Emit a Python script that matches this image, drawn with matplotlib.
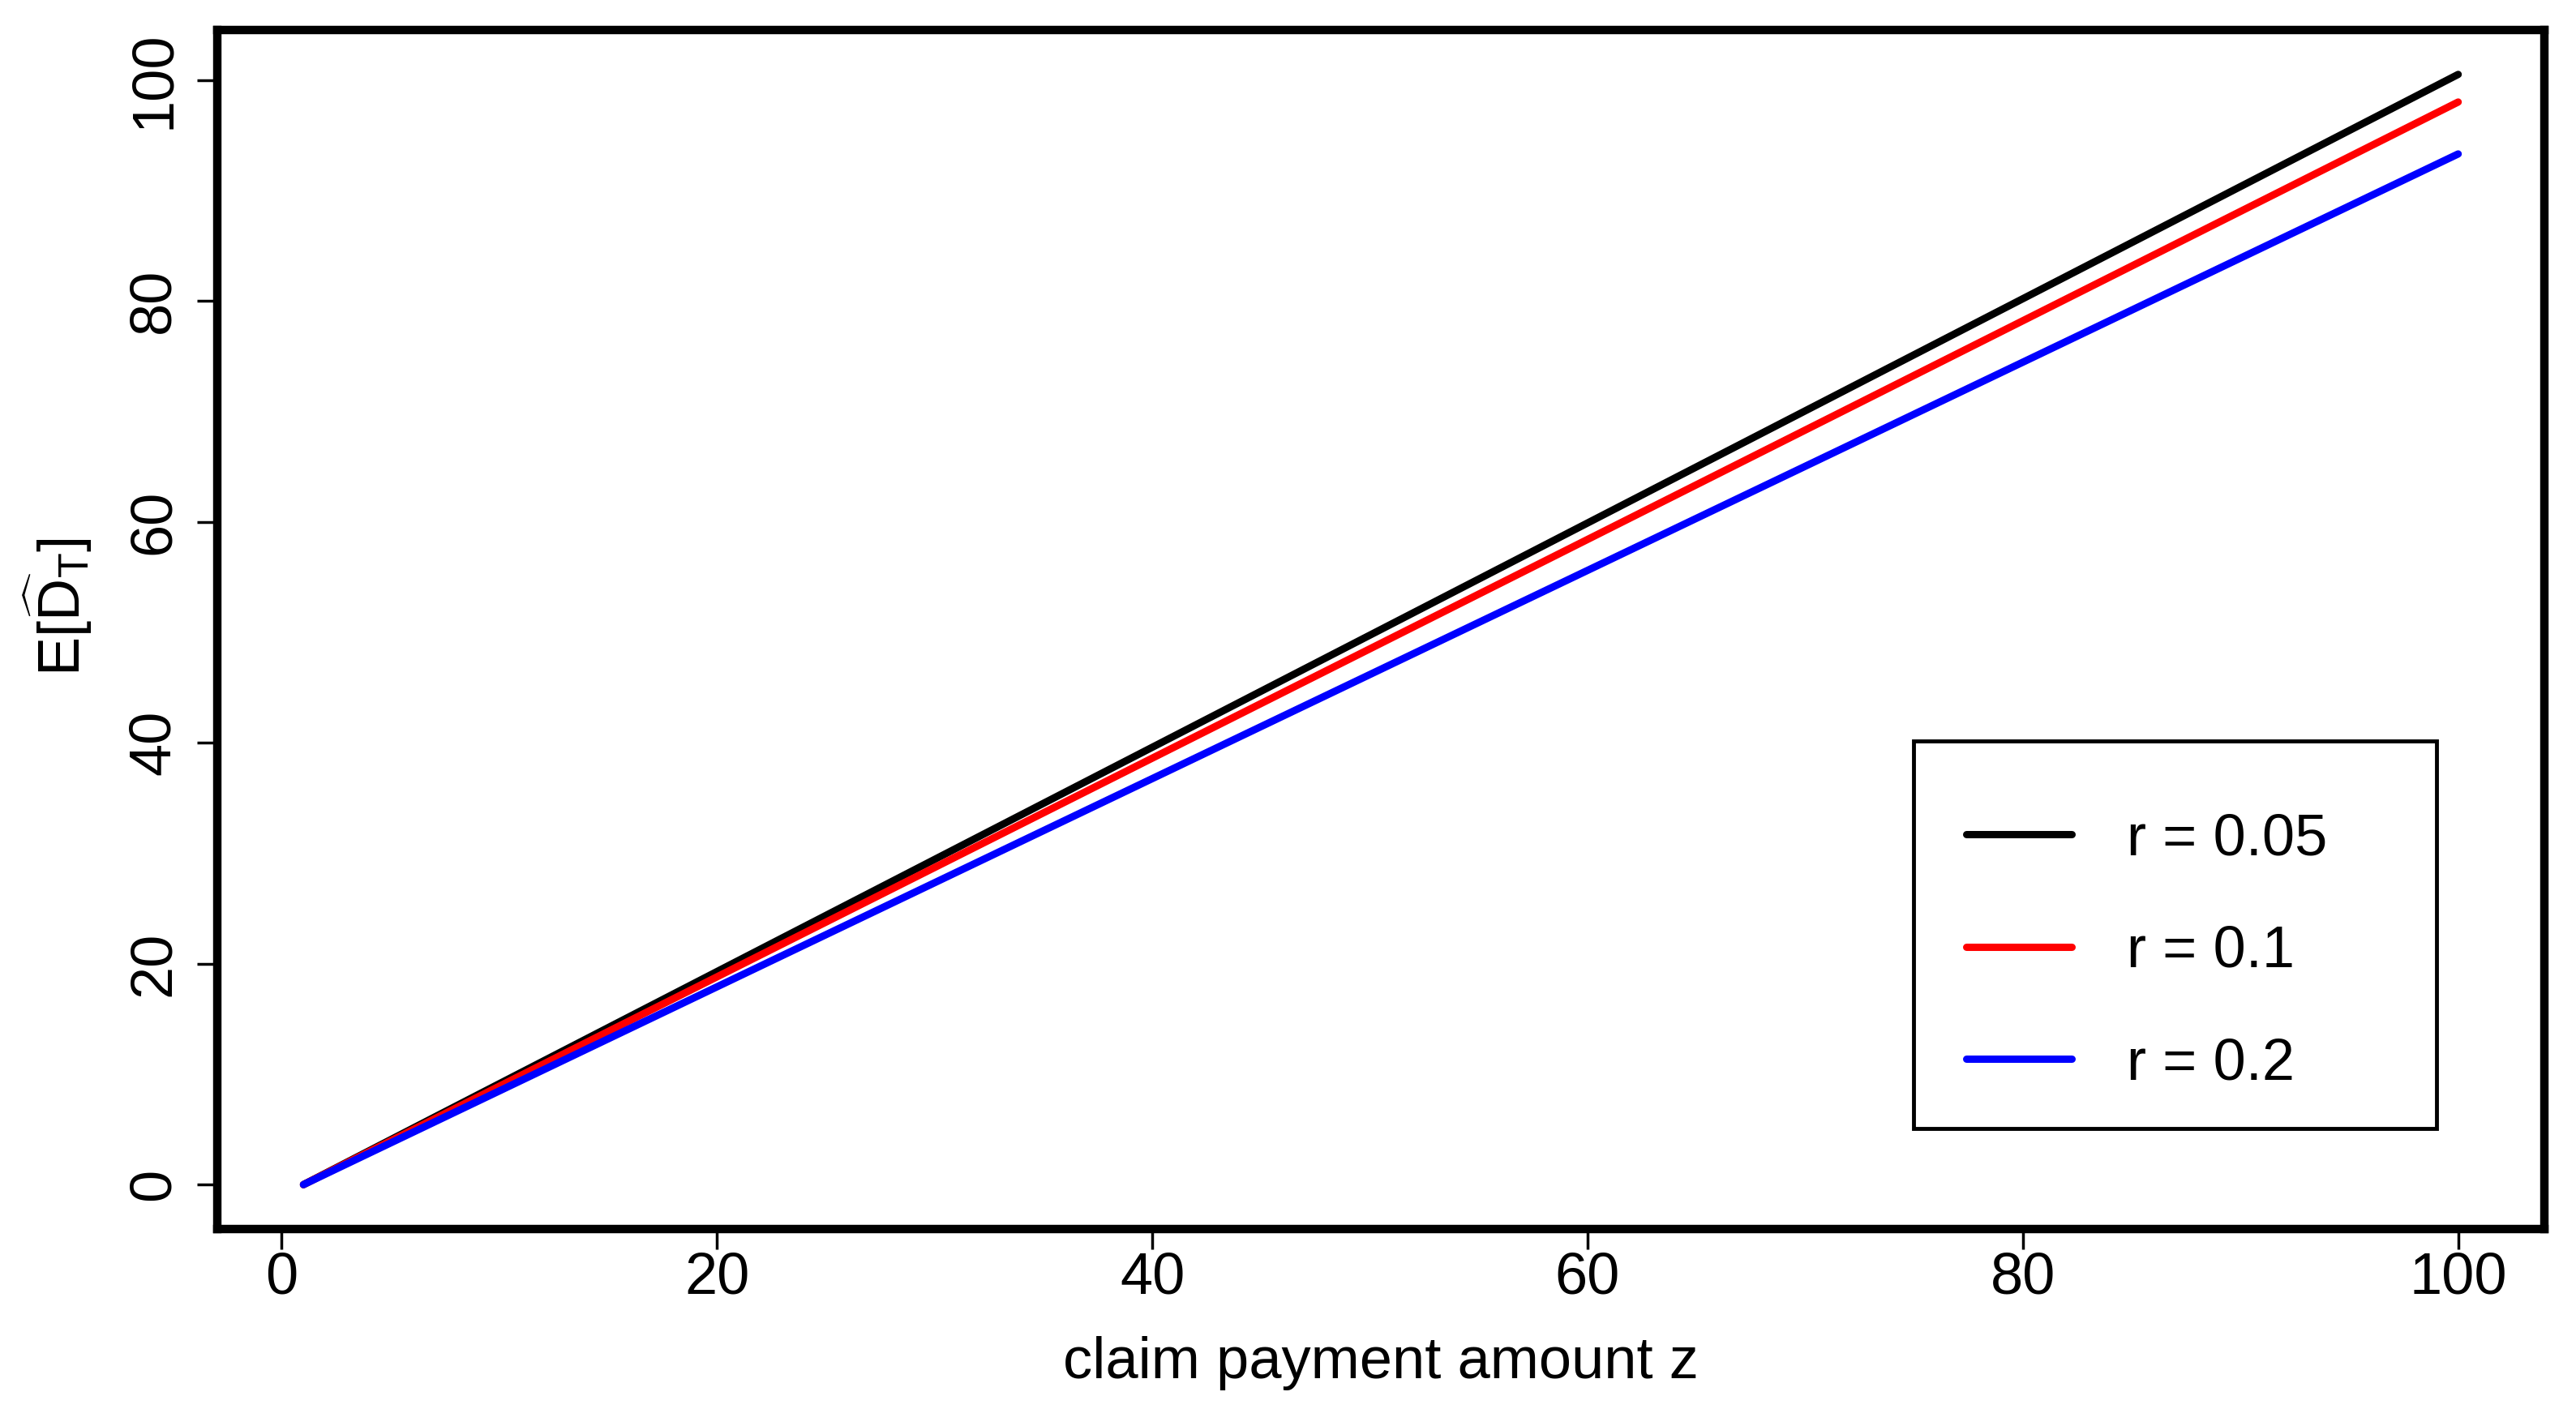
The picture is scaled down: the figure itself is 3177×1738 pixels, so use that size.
import matplotlib
matplotlib.use("Agg")
import matplotlib.pyplot as plt
from matplotlib.patches import Rectangle

plt.rcParams['font.family'] = ['Liberation Sans', 'DejaVu Sans']
plt.rcParams['mathtext.fontset'] = 'custom'
plt.rcParams['mathtext.rm'] = 'Liberation Sans'
plt.rcParams['mathtext.it'] = 'Liberation Sans'

# claim payment amount z (straight lines from z=1 to z=100)
z = [1, 100]
ed_r005 = [0.0, 100.5]
ed_r01 = [0.0, 98.0]
ed_r02 = [0.0, 93.3]

labels = ["r = 0.05", "r = 0.1", "r = 0.2"]
colors = ["black", "red", "blue"]
xticks = [0, 20, 40, 60, 80, 100]
yticks = [0, 20, 40, 60, 80, 100]

W, H = 3177, 1738
fig = plt.figure(figsize=(W / 100, H / 100), dpi=100)
ax = fig.add_axes([268 / W, 1 - 1516 / H, (3138 - 268) / W, (1516 - 37) / H])

for yv, lab, col in zip([ed_r005, ed_r01, ed_r02], labels, colors):
    ax.plot(z, yv, color=col, lw=6.5, solid_capstyle='round', label=lab)

# R style axis padding (4% each side)
xr = z[-1] - z[0]
ax.set_xlim(z[0] - 0.04 * xr, z[-1] + 0.04 * xr)
ymax = max(ed_r005)
ax.set_ylim(-0.04 * ymax, ymax * 1.04)

ax.set_xticks(xticks)
ax.set_yticks(yticks)
ax.tick_params(axis='both', labelsize=52, length=18, width=2.5, direction='out')
ax.tick_params(axis='x', pad=2)
ax.tick_params(axis='y', pad=14)
for lbl in ax.get_yticklabels():
    lbl.set_rotation(90)
    lbl.set_va('center')

for s in ax.spines.values():
    s.set_linewidth(7.5)

ax.set_xlabel("claim payment amount z", fontsize=52, labelpad=27)
ax.set_ylabel(r"$\mathrm{E}[\widehat{\mathrm{D}}_{\mathrm{T}}]$", fontsize=52)
ax.yaxis.set_label_coords(-0.053, 0.519)

# legend box (R draws it wider than the text)
box = Rectangle((2360 / W, 1 - 1392 / H), 645 / W, 478 / H,
                transform=fig.transFigure, facecolor='white',
                edgecolor='black', lw=3.5, zorder=4, clip_on=False)
ax.add_patch(box)
leg = ax.legend(loc='upper left',
                bbox_to_anchor=(2364 / W, 1 - 941 / H),
                bbox_transform=fig.transFigure, borderaxespad=0,
                fontsize=52, handlelength=1.8, handletextpad=0.93,
                borderpad=0.85, labelspacing=0.99, frameon=False)
leg.set_zorder(5)

fig.savefig("out.png", dpi=100)
